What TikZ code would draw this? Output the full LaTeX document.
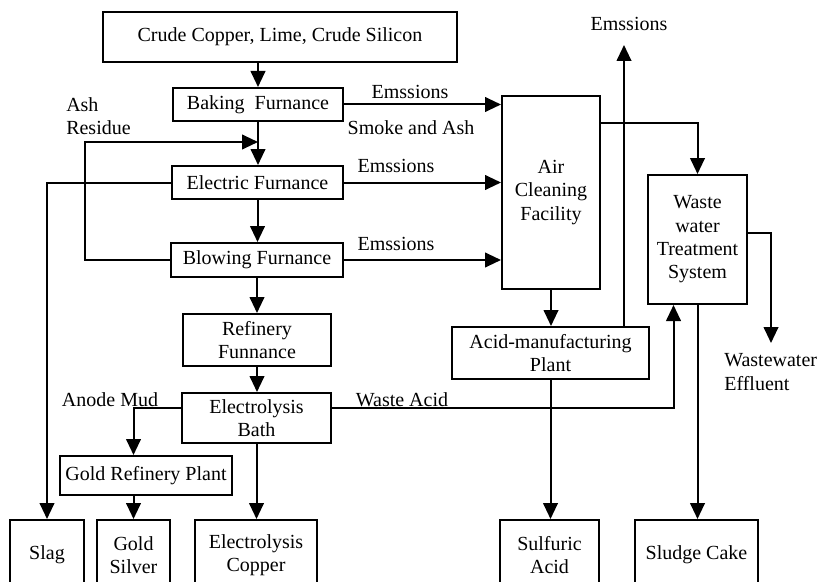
\documentclass[tikz,border=0pt]{standalone}
\usepackage{fontspec}
\setmainfont{Liberation Serif}
\usepackage{tikz}
\usetikzlibrary{arrows.meta,calc}
\tikzset{
  procbox/.style={draw, line width=1.5pt, align=center, inner sep=0pt,
    font=\fontsize{15}{17.5}\selectfont},
  flowarr/.style={line width=1.5pt, -{Triangle[width=11pt,length=12pt]}},
  lbl/.style={font=\fontsize{15}{17.5}\selectfont, inner sep=0pt}
}

\begin{document}
\begin{tikzpicture}[x=0.75pt,y=-0.75pt]
      \fill[white] (0,0) rectangle (823,581);
      \clip (0,0) rectangle (823,581);
      % smelting line
      \node[procbox, minimum width=265.5pt, minimum height=37.5pt] (raw) at (280,37)
        {Crude Copper, Lime, Crude Silicon};
      \node[procbox, minimum width=127.5pt, minimum height=24.75pt] (bake) at (258,104.5)
        {Baking\ \ Furnance};
      \node[procbox, minimum width=128.25pt, minimum height=24.75pt] (elec) at (257.5,182.5)
        {Electric Furnance};
      \node[procbox, minimum width=129pt, minimum height=25.5pt] (blow) at (257,260)
        {Blowing Furnance};
      \node[procbox, minimum width=111pt, minimum height=39pt] (refin) at (257,340)
        {Refinery\\Funnance};
      \node[procbox, minimum width=111.75pt, minimum height=37.5pt] (bath) at (256.5,418)
        {Electrolysis\\Bath};
      \node[procbox, minimum width=129pt, minimum height=29.25pt] (goldref) at (146,475.5)
        {Gold Refinery Plant};
      % products (boxes run off the bottom edge)
      \node[procbox, minimum width=55.5pt, minimum height=52.5pt] (slag) at (47,555) {Slag};
      \node[procbox, minimum width=54.75pt, minimum height=52.5pt] (goldsilver) at (133.5,555)
        {Gold\\Silver};
      \node[procbox, minimum width=91.5pt, minimum height=52.5pt] (copper) at (256,555)
        {Electrolysis\\Copper};
      \node[procbox, minimum width=74.25pt, minimum height=52.5pt] (sulfuric) at (549.5,555)
        {Sulfuric\\Acid};
      \node[procbox, minimum width=92.25pt, minimum height=52.5pt] (sludge) at (696.5,555)
        {Sludge Cake};
      % treatment
      \node[procbox, minimum width=73.5pt, minimum height=144.75pt] (air) at (551,192.5)
        {Air\\Cleaning\\Facility};
      \node[procbox, minimum width=147.75pt, minimum height=39pt] (acid) at (550.5,353)
        {Acid-manufacturing\\Plant};
      \node[procbox, minimum width=74.25pt, minimum height=96.75pt] (ww) at (697.5,239.5)
        {Waste\\water\\Treatment\\System};
      % labels
      \node[lbl] (embake) at (410,92) {Emssions};
      \node[lbl] (smoke) at (411,128) {Smoke and Ash};
      \node[lbl] (emelec) at (396,166) {Emssions};
      \node[lbl] (emblow) at (396,244) {Emssions};
      \node[lbl, align=left, anchor=west] (ash) at (66,116) {Ash\\Residue};
      \node[lbl] (anode) at (110,400) {Anode Mud};
      \node[lbl] (wacid) at (402,400) {Waste Acid};
      \node[lbl] (emtop) at (629,24) {Emssions};
      \node[lbl, align=left, anchor=west] (effl) at (724,372) {Wastewater\\Effluent};
      \coordinate (ashjoin) at (258,142);
      \coordinate (emtip) at (624,45);
      \coordinate (efftip) at (771,343);
      % flows
      \draw[flowarr] (raw.south -| bake.north) -- (bake.north);
      \draw[flowarr] (bake.south) -- (bake.south |- elec.north);
      \draw[flowarr] (elec.south) -- (elec.south |- blow.north);
      \draw[flowarr] (blow.south) -- (blow.south |- refin.north);
      \draw[flowarr] (refin.south) -- (refin.south |- bath.north);
      \draw[flowarr] (bath.south) -- (bath.south |- copper.north);
      \draw[flowarr] (blow.west) -- ++(-85,0) |- (ashjoin);
      \draw[flowarr] (elec.west) -| (slag.north);
      \draw[flowarr] (bake.east) -- (bake.east -| air.west);
      \draw[flowarr] (elec.east) -- (elec.east -| air.west);
      \draw[flowarr] (blow.east) -- (blow.east -| air.west);
      \draw[flowarr] ($(bath.west)+(0,-10)$) -| (goldsilver.north |- goldref.north);
      \draw[flowarr] (goldsilver.north |- goldref.south) -- (goldsilver.north);
      \draw[flowarr] ($(bath.east)+(0,-10)$) -| ($(ww.south)+(-24,0)$);
      \draw[flowarr] (air.south) -- (air.south |- acid.north);
      \draw[flowarr] (emtip |- acid.north) -- (emtip);
      \draw[flowarr] ($(air.north east)+(0,28)$) -| (ww.north);
      \draw[flowarr] ($(ww.east)+(0,-7)$) -| (efftip);
      \draw[flowarr] (ww.south) -- (ww.south |- sludge.north);
      \draw[flowarr] (acid.south) -- (acid.south |- sulfuric.north);
    \end{tikzpicture}
\end{document}
